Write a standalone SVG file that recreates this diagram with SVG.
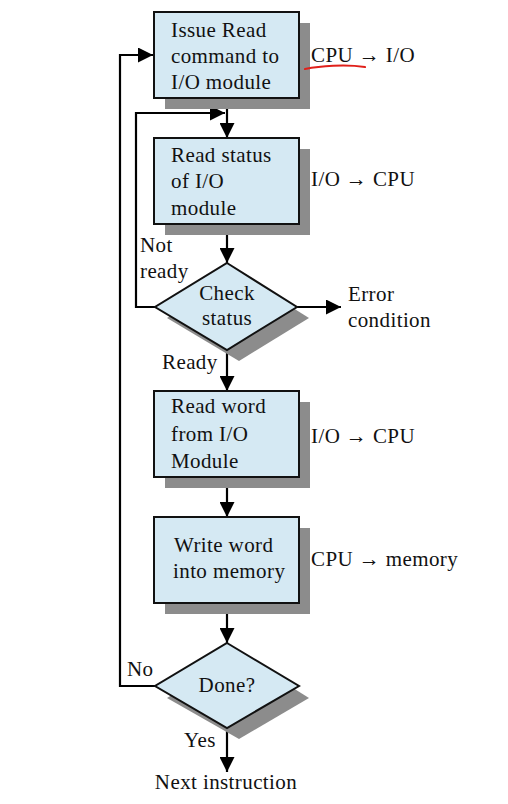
<svg xmlns="http://www.w3.org/2000/svg" width="508" height="804" viewBox="0 0 508 804">
<style>
.box{fill:#d5e9f3;stroke:#111;stroke-width:2}
.sh{fill:#8c8c8c}
.t{font-family:"Liberation Serif","Times New Roman",serif;font-size:21px;letter-spacing:0.4px;fill:#111}
.c{text-anchor:middle}
.ln{fill:none;stroke:#000;stroke-width:2.2}
</style>
<defs>
<marker id="ah" viewBox="0 0 10 10" refX="10" refY="5" markerWidth="15" markerHeight="15" markerUnits="userSpaceOnUse" orient="auto">
<path d="M0,0 L10,5 L0,10 z" fill="#000"/>
</marker>
</defs>
<rect width="508" height="804" fill="#fff"/>

<g id="connectors">
<path class="ln" d="M227,98 V138" marker-end="url(#ah)"/>
<path class="ln" d="M227,224 V263" marker-end="url(#ah)"/>
<path class="ln" d="M155,307 H136 V113 H225" marker-end="url(#ah)"/>
<path class="ln" d="M297,307 H341" marker-end="url(#ah)"/>
<path class="ln" d="M227,350 V391" marker-end="url(#ah)"/>
<path class="ln" d="M227,477 V517" marker-end="url(#ah)"/>
<path class="ln" d="M227,603 V643" marker-end="url(#ah)"/>
<path class="ln" d="M155,686 H120 V55 H153" marker-end="url(#ah)"/>
<path class="ln" d="M227,728 V772" marker-end="url(#ah)"/>
<text class="t" x="140" y="252">Not</text>
<text class="t" x="140" y="278">ready</text>
<text class="t" x="162" y="369">Ready</text>
<text class="t" x="127" y="676">No</text>
<text class="t" x="184" y="747">Yes</text>
</g>

<g id="issue-read">
<rect class="sh" x="165" y="23" width="145" height="86"/>
<rect class="box" x="154" y="12" width="145" height="86"/>
<text class="t" x="171" y="37">Issue Read</text>
<text class="t" x="171" y="63">command to</text>
<text class="t" x="171" y="89">I/O module</text>
</g>
<g id="label-cpu-io">
<text class="t" x="311" y="62">CPU → I/O</text>
<path d="M305,69 C320,66 345,64 365,67" fill="none" stroke="#e0201a" stroke-width="2.2" stroke-linecap="round"/>
</g>

<g id="read-status">
<rect class="sh" x="165" y="149" width="145" height="86"/>
<rect class="box" x="154" y="138" width="145" height="86"/>
<text class="t" x="171" y="162">Read status</text>
<text class="t" x="171" y="188">of I/O</text>
<text class="t" x="171" y="215">module</text>
</g>
<text id="label-io-cpu-1" class="t" x="311" y="186">I/O → CPU</text>

<g id="check-status">
<polygon class="sh" points="239,274 309,318 239,361 167,318"/>
<polygon class="box" points="227,263 297,307 227,350 155,307"/>
<text class="t c" x="227" y="300">Check</text>
<text class="t c" x="227" y="325">status</text>
</g>
<g id="error-condition">
<text class="t" x="348" y="301">Error</text>
<text class="t" x="348" y="327">condition</text>
</g>

<g id="read-word">
<rect class="sh" x="165" y="402" width="145" height="86"/>
<rect class="box" x="154" y="391" width="145" height="86"/>
<text class="t" x="171" y="413">Read word</text>
<text class="t" x="171" y="441">from I/O</text>
<text class="t" x="171" y="468">Module</text>
</g>
<text id="label-io-cpu-2" class="t" x="311" y="443">I/O → CPU</text>

<g id="write-word">
<rect class="sh" x="165" y="528" width="145" height="86"/>
<rect class="box" x="154" y="517" width="145" height="86"/>
<text class="t" x="174" y="552">Write word</text>
<text class="t" x="173" y="578">into memory</text>
</g>
<text id="label-cpu-mem" class="t" x="311" y="566">CPU → memory</text>

<g id="done">
<polygon class="sh" points="239,654 309,698 239,739 167,698"/>
<polygon class="box" points="227,643 299,686 227,728 155,686"/>
<text class="t c" x="227" y="692">Done?</text>
</g>

<text id="next-instruction" class="t c" x="226" y="789">Next instruction</text>
</svg>
